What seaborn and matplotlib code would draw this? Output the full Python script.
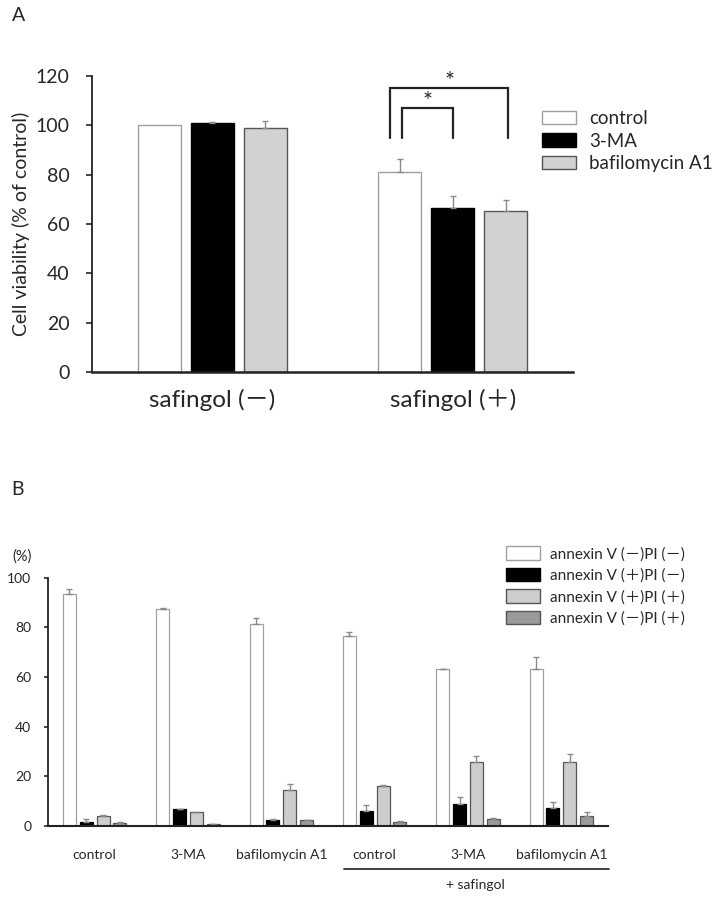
import matplotlib
matplotlib.use("Agg")
import matplotlib.pyplot as plt
from matplotlib.patches import Patch
import numpy as np
import pandas as pd
import seaborn as sns

# ---- panel A data: cell viability (% of control)
a_groups = ["safingol (－)", "safingol (＋)"]
a_treatments = ["control", "3-MA", "bafilomycin A1"]
a_control = [100.0, 81.2]
a_3ma = [100.8, 66.6]
a_baf = [98.8, 65.1]
a_control_err = [0.0, 5.0]
a_3ma_err = [0.6, 4.7]
a_baf_err = [3.0, 4.6]

# ---- panel B data: annexin V / PI staining (%)
b_conditions = ["control", "3-MA", "baf", "control+saf", "3-MA+saf", "baf+saf"]
b_tick_labels = ["control", "3-MA", "bafilomycin A1", "control", "3-MA", "bafilomycin A1"]
b_series = ["annexin V (－)PI (－)", "annexin V (＋)PI (－)",
            "annexin V (＋)PI (＋)", "annexin V (－)PI (＋)"]
b_neg_neg = [93.3, 87.5, 81.3, 76.6, 63.1, 63.1]
b_pos_neg = [1.6, 6.7, 2.2, 6.2, 8.7, 7.1]
b_pos_pos = [3.9, 5.5, 14.5, 16.2, 25.6, 25.9]
b_neg_pos = [1.2, 0.6, 2.2, 1.6, 2.8, 4.2]
b_neg_neg_err = [2.0, 0.3, 2.6, 1.7, 0.2, 5.0]
b_pos_neg_err = [1.1, 0.3, 0.6, 2.1, 3.1, 2.4]
b_pos_pos_err = [0.7, 0.3, 2.3, 0.3, 2.7, 3.1]
b_neg_pos_err = [0.5, 0.2, 0.3, 0.3, 0.3, 1.4]

A_FACE = ["#ffffff", "#000000", "#d2d2d2"]
A_EDGE = ["#a0a0a0", "#000000", "#555555"]
B_FACE = ["#ffffff", "#000000", "#cdcdcd", "#9a9a9a"]
B_EDGE = ["#a0a0a0", "#000000", "#555555", "#555555"]

sns.set_style("white")
plt.rcParams["font.family"] = ["Lato", "Noto Sans CJK JP", "DejaVu Sans"]


def style_bars(ax, errs, faces, edges, lw):
    for cont, err, fc, ec in zip(ax.containers, errs, faces, edges):
        xs, ys = [], []
        for p in cont.patches:
            p.set_facecolor(fc)
            p.set_edgecolor(ec)
            p.set_linewidth(lw)
            xs.append(p.get_x() + p.get_width() / 2)
            ys.append(p.get_height())
        err = np.array(err)
        keep = err > 0
        ax.errorbar(np.array(xs)[keep], np.array(ys)[keep],
                    yerr=[np.zeros(keep.sum()), err[keep]], fmt="none",
                    ecolor="#8a8a8a", elinewidth=1, capsize=2.5, capthick=1)


fig = plt.figure(figsize=(7.2, 8.97), dpi=100)

# ================= panel A =================
axA = fig.add_axes([0.1278, 0.5853, 0.668, 0.33])
dfA = pd.DataFrame({
    "group": a_groups * 3,
    "treatment": np.repeat(a_treatments, 2),
    "value": a_control + a_3ma + a_baf,
})
sns.barplot(data=dfA, x="group", y="value", hue="treatment",
            order=a_groups, hue_order=a_treatments, palette=A_FACE,
            saturation=1, width=0.66, gap=0.19, errorbar=None,
            legend=False, ax=axA)
style_bars(axA, [a_control_err, a_3ma_err, a_baf_err], A_FACE, A_EDGE, 1.0)

axA.set_xlim(-0.5, 1.5)
axA.set_ylim(0, 120)
axA.set_yticks(range(0, 121, 20))
axA.set_xlabel("")
axA.set_ylabel("Cell viability (% of control)", fontsize=14, labelpad=4)
axA.tick_params(axis="y", left=True, length=4, width=1.2, pad=12, labelsize=14)
axA.tick_params(axis="x", bottom=False, pad=9, labelsize=17.5)
for s in ["top", "right"]:
    axA.spines[s].set_visible(False)
axA.spines["left"].set_linewidth(1.3)
axA.spines["bottom"].set_linewidth(1.8)
axA.spines["left"].set_color("#222222")
axA.spines["bottom"].set_color("#222222")

# significance brackets
ctrl_x = axA.containers[0].patches[1].get_x() + axA.containers[0].patches[1].get_width() / 2
ma_x = axA.containers[1].patches[1].get_x() + axA.containers[1].patches[1].get_width() / 2
baf_x = axA.containers[2].patches[1].get_x() + axA.containers[2].patches[1].get_width() / 2
for x0, x1, top in [(ctrl_x - 0.04, baf_x + 0.01, 115), (ctrl_x + 0.01, ma_x, 107)]:
    axA.plot([x0, x0, x1, x1], [95, top, top, 95], color="#222222", lw=1.6,
             clip_on=False, solid_joinstyle="miter")
    axA.text((x0 + x1) / 2, top - 1.5, "*", ha="center", va="bottom", fontsize=17,
             clip_on=False)

handlesA = [Patch(facecolor=f, edgecolor=e, linewidth=1) for f, e in zip(A_FACE, A_EDGE)]
fig.legend(handlesA, a_treatments, loc="upper left", bbox_to_anchor=(0.753, 0.877),
           frameon=False, fontsize=13.5, handlelength=1.8, handleheight=0.7,
           labelspacing=0.28, handletextpad=0.7, borderpad=0, borderaxespad=0)

fig.text(0.016, 0.983, "A", fontsize=14, va="center")

# ================= panel B =================
axB = fig.add_axes([0.0667, 0.0792, 0.7777, 0.2768])
dfB = pd.DataFrame({
    "condition": b_conditions * 4,
    "series": np.repeat(b_series, len(b_conditions)),
    "value": b_neg_neg + b_pos_neg + b_pos_pos + b_neg_pos,
})
sns.barplot(data=dfB, x="condition", y="value", hue="series",
            order=b_conditions, hue_order=b_series, palette=B_FACE,
            saturation=1, width=0.72, gap=0.22, errorbar=None,
            legend=False, ax=axB)
style_bars(axB, [b_neg_neg_err, b_pos_neg_err, b_pos_pos_err, b_neg_pos_err],
           B_FACE, B_EDGE, 0.9)

axB.set_xlim(-0.5, 5.5)
axB.set_ylim(0, 100)
axB.set_yticks(range(0, 101, 20))
axB.set_xticks(range(len(b_conditions)))
axB.set_xticklabels(b_tick_labels)
axB.set_xlabel("")
axB.set_ylabel("")
axB.tick_params(axis="y", left=True, length=3, width=1.2, pad=9, labelsize=10)
axB.tick_params(axis="x", bottom=False, pad=13, labelsize=10)
for s in ["top", "right"]:
    axB.spines[s].set_visible(False)
axB.spines["left"].set_linewidth(1.3)
axB.spines["bottom"].set_linewidth(1.5)
axB.spines["left"].set_color("#222222")
axB.spines["bottom"].set_color("#222222")

# "+ safingol" underline
trans = axB.get_xaxis_transform()
axB.plot([2.67, 5.51], [-0.173, -0.173], color="#333333", lw=1.3,
         transform=trans, clip_on=False)
axB.text(4.08, -0.238, "+ safingol", ha="center", va="center", fontsize=10,
         transform=trans)

fig.text(0.017, 0.380, "(%)", fontsize=10.5, va="center")

handlesB = [Patch(facecolor=f, edgecolor=e, linewidth=1) for f, e in zip(B_FACE, B_EDGE)]
fig.legend(handlesB, b_series, loc="upper left", bbox_to_anchor=(0.703, 0.391),
           frameon=False, fontsize=11, handlelength=2.2, handleheight=1.0,
           labelspacing=0.42, handletextpad=0.7, borderpad=0, borderaxespad=0)

fig.text(0.016, 0.454, "B", fontsize=14, va="center")

fig.savefig("out.png", dpi=100)
plt.close(fig)
